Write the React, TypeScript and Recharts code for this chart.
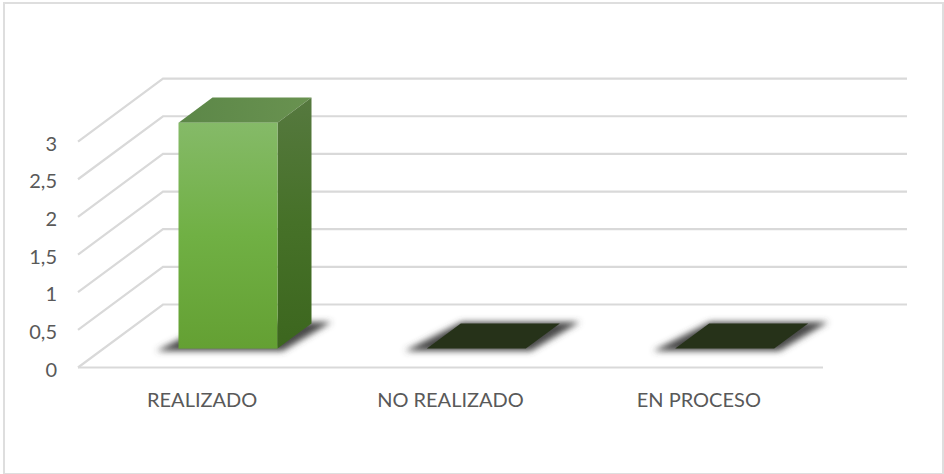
import React from "react";
import { BarChart, Bar, XAxis, YAxis, CartesianGrid } from "recharts";

const categories = ["REALIZADO", "NO REALIZADO", "EN PROCESO"];
const values = [3, 0, 0];
const yTicks = [0, 0.5, 1, 1.5, 2, 2.5, 3];

const rows = categories.map((name, i) => ({ name, value: values[i] }));

const DEPTH_X = 85;
const DEPTH_Y = 63;
const BAR_T = 0.3;
const BAR_DEPTH = 0.4;
const GRID = "#d9d9d9";
const INK = "#595959";

function GridLine(props: any) {
  const { x1, y1, x2, y2 } = props;
  const isFloor = Math.abs(y1 - 367.5) < 1;
  return (
    <g fill="none" stroke={GRID} strokeWidth={2.2}>
      <path d={`M${x1},${y1} L${x1 + DEPTH_X},${y1 - DEPTH_Y} L${x2 + DEPTH_X - 1},${y2 - DEPTH_Y}`} />
      {isFloor && <path d={`M${x1},${y1} L${x2},${y2}`} />}
    </g>
  );
}

function Bar3D(props: any) {
  const { x, y, width, height } = props;
  const fx = x + DEPTH_X * BAR_T;
  const shift = DEPTH_Y * BAR_T;
  const top = y - shift;
  const bottom = y + height - shift;
  const dx = DEPTH_X * BAR_DEPTH;
  const dy = DEPTH_Y * BAR_DEPTH;
  const shadow = `M${fx - 22},${bottom + 2.5} L${fx + width + 5},${bottom + 2.5} L${fx + width + dx + 20},${bottom - dy - 1.5} L${fx + dx + 1},${bottom - dy - 1.5} Z`;
  if (height < 1) {
    return (
      <g>
        <path d={shadow} fill="#4a4a4a" filter="url(#soft)" />
        <path d={`M${fx},${bottom} L${fx + width},${bottom} L${fx + width + dx},${bottom - dy} L${fx + dx},${bottom - dy} Z`} fill="#263219" />
      </g>
    );
  }
  return (
    <g>
      <path d={shadow} fill="#4a4a4a" filter="url(#soft)" />
      <path d={`M${fx},${top} L${fx + width},${top} L${fx + width + dx},${top - dy} L${fx + dx},${top - dy} Z`} fill="url(#topFace)" />
      <path d={`M${fx + width},${top} L${fx + width + dx},${top - dy} L${fx + width + dx},${bottom - dy} L${fx + width},${bottom} Z`} fill="url(#sideFace)" />
      <rect x={fx} y={top} width={width} height={bottom - top} fill="url(#frontFace)" />
    </g>
  );
}

export default function App() {
  return (
    <div style={{ position: "absolute", left: 0, top: 0, width: 944, height: 474, background: "#fff", overflow: "hidden" }}>
      <div style={{ position: "absolute", left: 3, top: 2, width: 937, height: 469, border: "2px solid #dedede" }} />
      <BarChart
        width={944}
        height={474}
        data={rows}
        barSize={99}
        margin={{ top: 141.6, right: 121, bottom: 76.5, left: 18 }}
        style={{ position: "absolute", left: 0, top: 0, fontFamily: "Lato, sans-serif" }}
      >
        <defs>
          <linearGradient id="frontFace" x1="0" y1="0" x2="0" y2="1">
            <stop offset="0" stopColor="#85ba68" />
            <stop offset="0.5" stopColor="#70b044" />
            <stop offset="1" stopColor="#64a033" />
          </linearGradient>
          <linearGradient id="sideFace" x1="0" y1="0" x2="0" y2="1">
            <stop offset="0" stopColor="#56793f" />
            <stop offset="0.5" stopColor="#467128" />
            <stop offset="1" stopColor="#3c661e" />
          </linearGradient>
          <linearGradient id="topFace" x1="0" y1="0" x2="1" y2="0">
            <stop offset="0" stopColor="#5c8748" />
            <stop offset="1" stopColor="#699250" />
          </linearGradient>
          <filter id="soft" x="-20%" y="-40%" width="140%" height="180%">
            <feGaussianBlur stdDeviation="3" />
          </filter>
        </defs>
        <CartesianGrid vertical={false} horizontal={(p: any) => <GridLine key={p.key} {...p} />} />
        <XAxis
          dataKey="name"
          height={30}
          axisLine={false}
          tickLine={false}
          tickMargin={19}
          interval={0}
          tick={{ fill: INK, fontSize: 20 }}
        />
        <YAxis
          width={60}
          domain={[0, 3]}
          ticks={yTicks}
          axisLine={false}
          tickLine={false}
          tickMargin={15}
          tickFormatter={(v: number) => String(v).replace(".", ",")}
          tick={{ fill: INK, fontSize: 20, dy: 2 }}
        />
        <Bar dataKey="value" isAnimationActive={false} shape={Bar3D} />
      </BarChart>
    </div>
  );
}
